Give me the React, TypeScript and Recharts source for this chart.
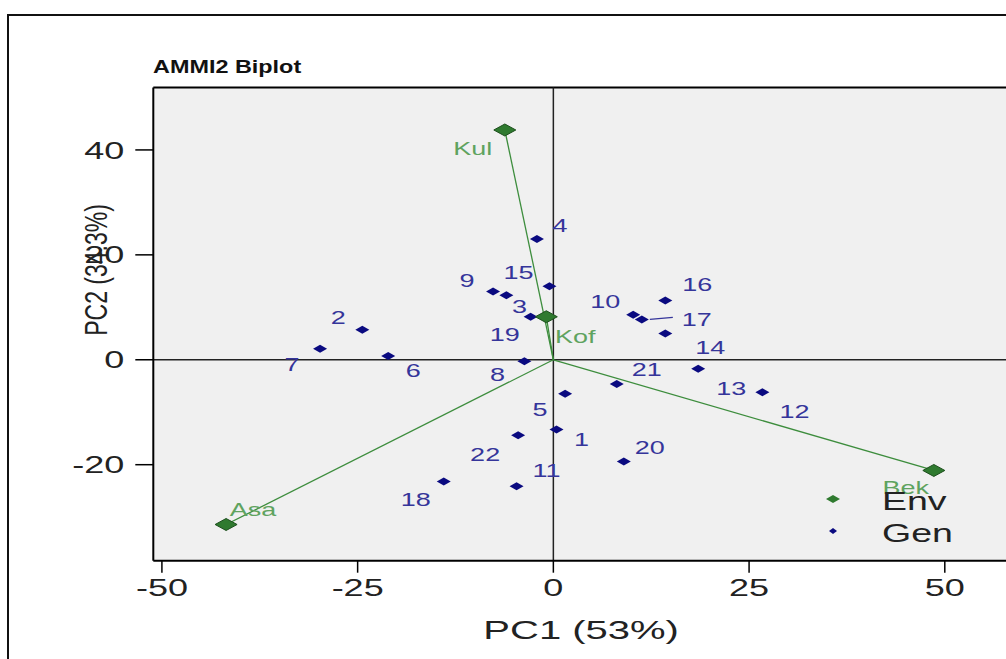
import React from "react";
import {
  CartesianGrid,
  Legend,
  ReferenceLine,
  Scatter,
  ScatterChart,
  XAxis,
  YAxis,
} from "recharts";

const FONT = "'Liberation Sans', Arial, Helvetica, sans-serif";
// the source picture is stretched sideways, so text gets a horizontal scale
const WIDE = 1.5;

const genNames = ["1", "2", "3", "4", "5", "6", "7", "8", "9", "10", "11", "12", "13", "14", "15", "16", "17", "18", "19", "20", "21", "22"];
const genPC1 = [0.4, -24.4, -6.0, -2.1, 1.5, -21.1, -29.8, -3.7, -7.7, 10.2, -4.7, 26.7, 18.5, 14.3, -0.5, 14.3, 11.3, -14.0, -2.9, 9.0, 8.1, -4.5];
const genPC2 = [-13.3, 5.7, 12.3, 23.0, -6.5, 0.7, 2.1, -0.3, 13.0, 8.6, -24.1, -6.2, -1.7, 5.0, 14.0, 11.3, 7.7, -23.2, 8.2, -19.4, -4.6, -14.4];

const envNames = ["Kul", "Kof", "Bek", "Asa"];
const envPC1 = [-6.2, -0.9, 48.6, -41.8];
const envPC2 = [43.8, 8.2, -21.1, -31.4];

const xTicks = [-50, -25, 0, 25, 50];
const yTicks = [-20, 0, 20, 40];

const X_DOMAIN: [number, number] = [-51.1, 58.2];
const Y_DOMAIN: [number, number] = [-38.3, 51.9];

// label placement (px from the point), as the repel layout put them
const genLabelOffset: [number, number][] = [
  [25, 10], [-24, -12], [13, 11], [23, -13], [-25, 16], [25, 15], [-28, 16], [-27, 13],
  [-26, -11], [-28, -13], [30, -15], [32, 19], [33, 20], [45, 14], [-31, -14], [32, -16],
  [55, 0], [-28, 18], [-26, 18], [26, -14], [30, -14], [-33, 19],
];
const envLabelOffset: [number, number][] = [[-32, 19], [29, 20], [-28, 17], [27, -15]];

const genData = genNames.map((name, i) => ({ name, i, x: genPC1[i], y: genPC2[i] }));
const envData = envNames.map((name, i) => ({ name, i, x: envPC1[i], y: envPC2[i] }));

const GEN_FILL = "#0a0a80";
const GEN_TEXT = "#35359a";
const ENV_FILL = "#2f7a2f";
const ENV_TEXT = "#5fa35f";
const ENV_LINE = "#3d8d3d";

function SText({ x, y, size, fill = "#222", anchor = "middle", weight = "normal", rotate = 0, sx = WIDE, children }: any) {
  const t = `translate(${x},${y}) scale(${sx},1)` + (rotate ? ` rotate(${rotate})` : "");
  return (
    <text
      transform={t}
      textAnchor={anchor}
      dominantBaseline="central"
      fontSize={size}
      fontWeight={weight}
      fill={fill}
      fontFamily={FONT}
    >
      {children}
    </text>
  );
}

function diamond(cx: number, cy: number, w: number, h: number) {
  return `${cx - w},${cy} ${cx},${cy - h} ${cx + w},${cy} ${cx},${cy + h}`;
}

function GenDot(props: any) {
  const { cx, cy, payload } = props;
  const [dx, dy] = genLabelOffset[payload.i];
  return (
    <g>
      <polygon points={diamond(cx, cy, 7, 4)} fill={GEN_FILL} />
      {payload.name === "17" && (
        <line x1={cx + 8} y1={cy} x2={cx + dx - 24} y2={cy + dy - 2} stroke={GEN_TEXT} strokeWidth={1.3} />
      )}
      <SText x={cx + dx} y={cy + dy} size={18} fill={GEN_TEXT}>
        {payload.name}
      </SText>
    </g>
  );
}

function EnvDot(props: any) {
  const { cx, cy, payload } = props;
  const [dx, dy] = envLabelOffset[payload.i];
  return (
    <g>
      <polygon points={diamond(cx, cy, 11, 6)} fill={ENV_FILL} stroke="#1d4f1d" strokeWidth={1} />
      <SText x={cx + dx} y={cy + dy} size={18} fill={ENV_TEXT}>
        {payload.name}
      </SText>
    </g>
  );
}

function XTick({ x, y, payload }: any) {
  return (
    <SText x={x} y={y + 13} size={24}>
      {payload.value}
    </SText>
  );
}

function YTick({ x, y, payload }: any) {
  return (
    <SText x={x - 9} y={y} size={24} anchor="end">
      {payload.value}
    </SText>
  );
}

function XTitle({ viewBox }: any) {
  return (
    <SText x={viewBox.x + viewBox.width / 2} y={630} size={25} sx={1.6}>
      PC1 (53%)
    </SText>
  );
}

function YTitle() {
  return (
    <SText x={96} y={270} size={23} sx={1.4} rotate={-90}>
      PC2 (34.3%)
    </SText>
  );
}

function LegendBox() {
  const rows = [
    { label: "Env", w: 7, h: 4, fill: ENV_FILL },
    { label: "Gen", w: 4, h: 3, fill: GEN_FILL },
  ];
  return (
    <div style={{ position: "relative", width: 160, height: 64, fontFamily: FONT }}>
      {rows.map((r, k) => (
        <div key={r.label} style={{ position: "absolute", left: 0, top: k * 32, height: 32, width: 160 }}>
          <svg width={24} height={32} style={{ position: "absolute", left: 0, top: 0 }}>
            <polygon points={diamond(11, 14, r.w, r.h)} fill={r.fill} />
          </svg>
          <span
            style={{
              position: "absolute",
              left: 60,
              top: 0,
              lineHeight: "32px",
              fontSize: 25,
              color: "#222",
              transform: `scaleX(${WIDE})`,
              transformOrigin: "left center",
              whiteSpace: "nowrap",
            }}
          >
            {r.label}
          </span>
        </div>
      ))}
    </div>
  );
}

export default function App() {
  return (
    <div style={{ position: "absolute", left: 0, top: 0, width: 1006, height: 659, overflow: "hidden", background: "#fff" }}>
      <div
        style={{
          position: "absolute",
          left: 7,
          top: 14,
          width: 1100,
          height: 700,
          border: "2px solid #111",
          boxSizing: "border-box",
        }}
      />
      <div
        style={{
          position: "absolute",
          left: 153,
          top: 57,
          fontFamily: FONT,
          fontWeight: "bold",
          fontSize: 18,
          lineHeight: "20px",
          color: "#111",
          transform: "scaleX(1.3)",
          transformOrigin: "left center",
          whiteSpace: "nowrap",
        }}
      >
        AMMI2 Biplot
      </div>
      <div style={{ position: "absolute", left: 0, top: 0 }}>
        <ScatterChart width={1012} height={659} margin={{ top: 87.5, right: 3, bottom: 38.3, left: 93.3 }}>
          <CartesianGrid horizontal={false} vertical={false} fill="#f0f0f0" />
          <XAxis
            type="number"
            dataKey="x"
            domain={X_DOMAIN}
            ticks={xTicks}
            allowDataOverflow
            height={60}
            tickSize={12}
            tick={<XTick />}
            axisLine={{ stroke: "#000", strokeWidth: 2 }}
            tickLine={{ stroke: "#000", strokeWidth: 1.5 }}
            label={<XTitle />}
          />
          <YAxis
            type="number"
            dataKey="y"
            domain={Y_DOMAIN}
            ticks={yTicks}
            allowDataOverflow
            width={60}
            tickSize={18}
            tick={<YTick />}
            axisLine={{ stroke: "#000", strokeWidth: 2 }}
            tickLine={{ stroke: "#000", strokeWidth: 1.5 }}
            label={<YTitle />}
          />
          <ReferenceLine y={Y_DOMAIN[1]} stroke="#000" strokeWidth={2} />
          <ReferenceLine x={0} stroke="#222" strokeWidth={1.5} />
          <ReferenceLine y={0} stroke="#222" strokeWidth={1.5} />
          {envData.map((e) => (
            <ReferenceLine
              key={e.name}
              segment={[{ x: 0, y: 0 }, { x: e.x, y: e.y }]}
              stroke={ENV_LINE}
              strokeWidth={1.3}
            />
          ))}
          <Scatter name="Gen" data={genData} shape={<GenDot />} isAnimationActive={false} />
          <Scatter name="Env" data={envData} shape={<EnvDot />} isAnimationActive={false} />
          <Legend
            layout="horizontal"
            verticalAlign="middle"
            align="center"
            wrapperStyle={{ left: 822, top: 485, width: 160 }}
            content={<LegendBox />}
          />
        </ScatterChart>
      </div>
    </div>
  );
}
